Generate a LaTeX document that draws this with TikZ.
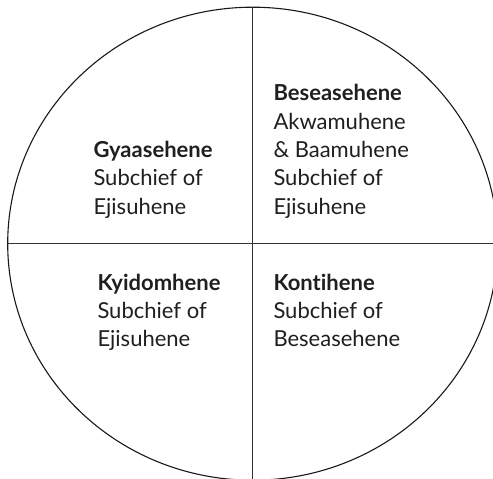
\documentclass[tikz,border=0pt]{standalone}
\usepackage{fontspec}
\setmainfont{Lato}[Ligatures=NoCommon]
\begin{document}
\begin{tikzpicture}[x=1pt,y=-1pt,
  lbl/.style={anchor=base west, inner sep=0pt, align=left,
    font=\fontsize{22}{28.3}\selectfont, text=black!88},
  rule/.style={line width=1.1pt, draw=black!80}]
\useasboundingbox (0,0) rectangle (493,479);
\begin{scope}
  \clip (0,0) rectangle (493,479);
  \draw[line width=1.1pt, draw=black!90] (252.7,243.7) ellipse [x radius=245, y radius=236.5];
\end{scope}
\coordinate (top) at (252.7,7.2);
\coordinate (bot) at (252.7,479);
\coordinate (lft) at (7.7,243.7);
\coordinate (rgt) at (493,243.7);
\draw[rule] (top) -- (bot);
\draw[rule] (lft) -- (rgt);
\node[lbl] (gyaa) at (93.3,214) {\textbf{Gyaasehene}\\Subchief of\\Ejisuhene};
\node[lbl] (besea) at (273.3,214) {\textbf{Beseasehene}\\Akwamuhene\\\&~Baamuhene\\Subchief of\\Ejisuhene};
\node[lbl] (kyid) at (97.3,346.7) {\textbf{Kyidomhene}\\Subchief of\\Ejisuhene};
\node[lbl] (konti) at (273.3,346.7) {\textbf{Kontihene}\\Subchief of\\Beseasehene};
\end{tikzpicture}
\end{document}
